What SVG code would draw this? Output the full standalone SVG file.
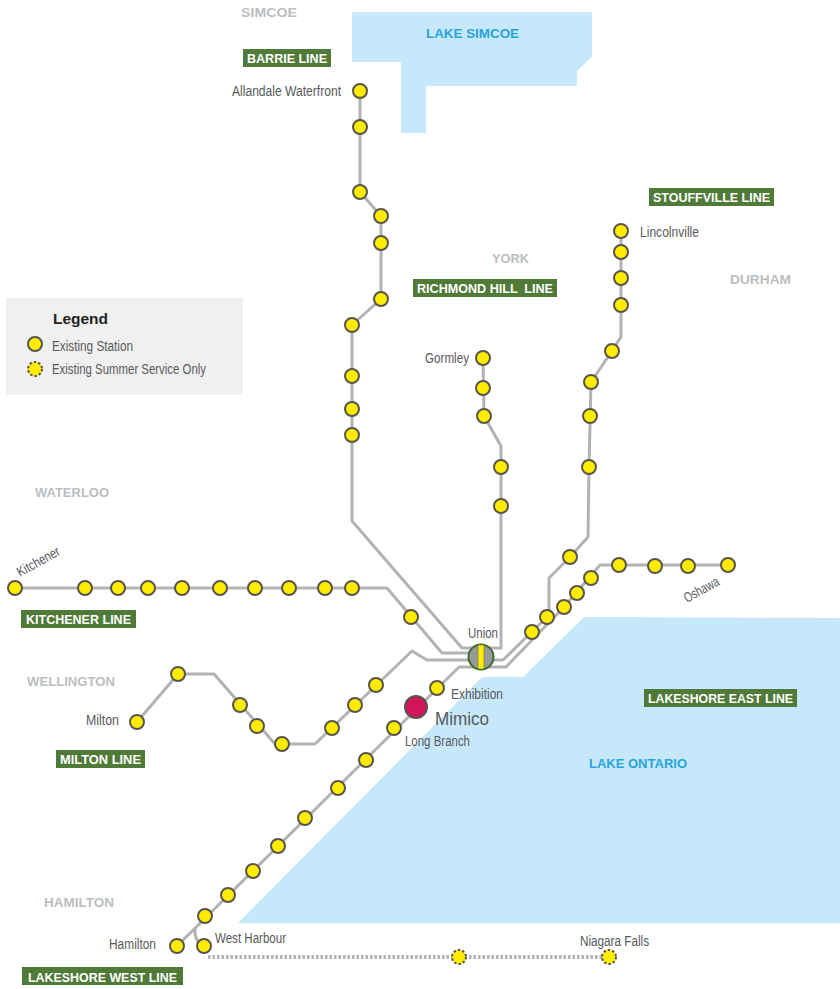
<svg xmlns="http://www.w3.org/2000/svg" width="840" height="989" viewBox="0 0 840 989">
<style>
.lake{fill:#c7e8fb}
.ln{fill:none;stroke:#b3b3b3;stroke-width:3;stroke-linejoin:round}
.dot{fill:none;stroke:#b3b3b3;stroke-width:4;stroke-dasharray:2.5 2}
.st{fill:#ffec00;stroke:#58554a;stroke-width:2}
.su{fill:#ffec00;stroke:#58554a;stroke-width:2;stroke-dasharray:2.5 2}
circle.st,circle.su{r:7px}
text{font-family:"Liberation Sans Narrow","Liberation Sans",Arial,sans-serif}
.name{font-size:14px;fill:#58595b}
.badge{fill:#4f7a37}
.bt{font-family:"Liberation Sans",Arial,sans-serif;font-size:13px;font-weight:bold;fill:#fff}
.reg{font-family:"Liberation Sans",Arial,sans-serif;font-size:13px;font-weight:bold;fill:#bcbec0}
.lk{font-family:"Liberation Sans",Arial,sans-serif;font-size:13px;font-weight:bold;fill:#27a4dd}
</style>
<polygon id="lake-simcoe" class="lake" points="352,12 592,12 592,57 577,71 577,86 426,86 426,133 401,133 401,62 352,62"/>
<polygon id="lake-ontario" class="lake" points="238,923 840,923 840,618 584,617 523,677 482,677"/>
<text class="lk" x="426" y="38" textLength="93" lengthAdjust="spacingAndGlyphs">LAKE SIMCOE</text>
<text class="lk" x="589" y="768" textLength="98" lengthAdjust="spacingAndGlyphs">LAKE ONTARIO</text>
<g id="regions">
<text class="reg" x="241" y="17" textLength="56" lengthAdjust="spacingAndGlyphs">SIMCOE</text>
<text class="reg" x="492" y="263" textLength="37" lengthAdjust="spacingAndGlyphs">YORK</text>
<text class="reg" x="730" y="284" textLength="61" lengthAdjust="spacingAndGlyphs">DURHAM</text>
<text class="reg" x="35" y="497" textLength="74" lengthAdjust="spacingAndGlyphs">WATERLOO</text>
<text class="reg" x="27" y="686" textLength="88" lengthAdjust="spacingAndGlyphs">WELLINGTON</text>
<text class="reg" x="44" y="907" textLength="70" lengthAdjust="spacingAndGlyphs">HAMILTON</text>
</g>
<g id="connectors">
<polyline class="ln" points="360,91 360,192 381,216 381,299 352,325 352,521 462,648 481,648"/>
<polyline class="ln" points="483,358 484,416 501,446 501,648 481,648"/>
<polyline class="ln" points="15,588 387,588 442,653 481,653"/>
<polyline class="ln" points="137,722 178,674 214,674 275,744 315,744 412,651 427,660 481,660"/>
<polyline class="ln" points="177,946 459,667 481,667"/>
<path class="ln" d="M195,929 Q194,941 204,946"/>
<polyline class="ln" points="481,667 506,667 564,607 600,565 728,565"/>
<polyline class="ln" points="481,660 503,660 547,617 549,612 549,578 570,557 588,537 589,467 591,382 612,351 621,337 621,231"/>
<polyline class="dot" points="208,957 609,957"/>
</g>
<g id="legend">
<rect x="6" y="298" width="237" height="97" fill="#f0f0f0"/>
<text x="53" y="324" font-size="15" font-weight="bold" fill="#222" style="font-family:'Liberation Sans',Arial,sans-serif" textLength="55" lengthAdjust="spacingAndGlyphs">Legend</text>
<circle class="st" cx="35" cy="344"/>
<text class="name" x="52" y="351" textLength="81" lengthAdjust="spacingAndGlyphs">Existing Station</text>
<circle class="su" cx="35" cy="369"/>
<text class="name" x="52" y="374" textLength="154" lengthAdjust="spacingAndGlyphs">Existing Summer Service Only</text>
</g>
<g id="badges">
<g id="badge-barrie"><rect class="badge" x="243" y="49" width="88" height="18"/><text class="bt" x="247" y="62.5" textLength="80" lengthAdjust="spacingAndGlyphs">BARRIE LINE</text></g>
<g id="badge-stouffville"><rect class="badge" x="649" y="188" width="125" height="18"/><text class="bt" x="653" y="201.500" textLength="117" lengthAdjust="spacingAndGlyphs">STOUFFVILLE LINE</text></g>
<g id="badge-richmond"><rect class="badge" x="413" y="279" width="144" height="18"/><text class="bt" x="417" y="292.500" textLength="136" lengthAdjust="spacingAndGlyphs" xml:space="preserve">RICHMOND HILL  LINE</text></g>
<g id="badge-kitchener"><rect class="badge" x="21" y="610" width="115" height="18"/><text class="bt" x="26" y="623.500" textLength="105" lengthAdjust="spacingAndGlyphs">KITCHENER LINE</text></g>
<g id="badge-lse"><rect class="badge" x="644" y="689" width="153" height="18"/><text class="bt" x="648" y="702.500" textLength="145" lengthAdjust="spacingAndGlyphs">LAKESHORE EAST LINE</text></g>
<g id="badge-milton"><rect class="badge" x="56" y="750" width="89" height="18"/><text class="bt" x="60" y="763.500" textLength="81" lengthAdjust="spacingAndGlyphs">MILTON LINE</text></g>
<g id="badge-lsw"><rect class="badge" x="22" y="967" width="161" height="18"/><text class="bt" x="28" y="982" textLength="149" lengthAdjust="spacingAndGlyphs">LAKESHORE WEST LINE</text></g>
</g>
<g id="barrie-stations">
<g id="st-allandale"><circle class="st" cx="360" cy="91"/><text class="name" x="232" y="96" textLength="109" lengthAdjust="spacingAndGlyphs">Allandale Waterfront</text></g>
<circle class="st" cx="360" cy="127"/>
<circle class="st" cx="360" cy="192"/>
<circle class="st" cx="381" cy="216"/>
<circle class="st" cx="381" cy="243"/>
<circle class="st" cx="381" cy="299"/>
<circle class="st" cx="352" cy="325"/>
<circle class="st" cx="352" cy="376"/>
<circle class="st" cx="352" cy="409"/>
<circle class="st" cx="352" cy="435"/>
</g>
<g id="richmond-stations">
<g id="st-gormley"><circle class="st" cx="483" cy="358"/><text class="name" x="425" y="363" textLength="44" lengthAdjust="spacingAndGlyphs">Gormley</text></g>
<circle class="st" cx="483" cy="388"/>
<circle class="st" cx="484" cy="416"/>
<circle class="st" cx="501" cy="467"/>
<circle class="st" cx="501" cy="506"/>
</g>
<g id="stouffville-stations">
<g id="st-lincolnville"><circle class="st" cx="621" cy="231"/><text class="name" x="640" y="237" textLength="59" lengthAdjust="spacingAndGlyphs">Lincolnville</text></g>
<circle class="st" cx="621" cy="252"/>
<circle class="st" cx="621" cy="278"/>
<circle class="st" cx="621" cy="305"/>
<circle class="st" cx="612" cy="351"/>
<circle class="st" cx="591" cy="382"/>
<circle class="st" cx="590" cy="416"/>
<circle class="st" cx="589" cy="467"/>
<circle class="st" cx="570" cy="557"/>
<circle class="st" cx="547" cy="617"/>
<circle class="st" cx="532" cy="632"/>
</g>
<g id="kitchener-stations">
<g id="st-kitchener"><circle class="st" cx="15" cy="588"/><text class="name" transform="translate(20,577) rotate(-29)" textLength="47" lengthAdjust="spacingAndGlyphs">Kitchener</text></g>
<circle class="st" cx="85" cy="588"/>
<circle class="st" cx="118" cy="588"/>
<circle class="st" cx="148" cy="588"/>
<circle class="st" cx="182" cy="588"/>
<circle class="st" cx="220" cy="588"/>
<circle class="st" cx="255" cy="588"/>
<circle class="st" cx="289" cy="588"/>
<circle class="st" cx="325" cy="588"/>
<circle class="st" cx="352" cy="588"/>
<circle class="st" cx="411" cy="617"/>
</g>
<g id="milton-stations">
<g id="st-milton"><circle class="st" cx="137" cy="722"/><text class="name" x="86" y="725" textLength="33" lengthAdjust="spacingAndGlyphs">Milton</text></g>
<circle class="st" cx="178" cy="674"/>
<circle class="st" cx="240" cy="705"/>
<circle class="st" cx="257" cy="726"/>
<circle class="st" cx="282" cy="744"/>
<circle class="st" cx="332" cy="728"/>
<circle class="st" cx="355" cy="705"/>
<circle class="st" cx="376" cy="685"/>
</g>
<g id="lsw-stations">
<g id="st-hamilton"><circle class="st" cx="177" cy="946"/><text class="name" x="109" y="949" textLength="47" lengthAdjust="spacingAndGlyphs">Hamilton</text></g>
<g id="st-west-harbour"><circle class="st" cx="204" cy="946"/><text class="name" x="215" y="943" textLength="71" lengthAdjust="spacingAndGlyphs">West Harbour</text></g>
<circle class="st" cx="205" cy="916"/>
<circle class="st" cx="228" cy="895"/>
<circle class="st" cx="253" cy="871"/>
<circle class="st" cx="278" cy="846"/>
<circle class="st" cx="305" cy="818"/>
<circle class="st" cx="338" cy="788"/>
<circle class="st" cx="366" cy="760"/>
<g id="st-long-branch"><circle class="st" cx="394" cy="728"/><text class="name" x="405" y="746" textLength="65" lengthAdjust="spacingAndGlyphs">Long Branch</text></g>
<g id="st-mimico"><circle cx="416" cy="707" r="11" fill="#d4145a" stroke="#58554a" stroke-width="2"/><text x="435" y="725" font-size="19" fill="#58595b" textLength="54" lengthAdjust="spacingAndGlyphs">Mimico</text></g>
<g id="st-exhibition"><circle class="st" cx="437" cy="688"/><text class="name" x="451" y="699" textLength="52" lengthAdjust="spacingAndGlyphs">Exhibition</text></g>
</g>
<g id="lse-stations">
<circle class="st" cx="564" cy="607"/>
<circle class="st" cx="577" cy="593"/>
<circle class="st" cx="591" cy="578"/>
<circle class="st" cx="619" cy="565"/>
<circle class="st" cx="655" cy="566"/>
<circle class="st" cx="688" cy="566"/>
<g id="st-oshawa"><circle class="st" cx="728" cy="565"/><text class="name" transform="translate(687,603) rotate(-29)" textLength="38" lengthAdjust="spacingAndGlyphs">Oshawa</text></g>
</g>
<g id="niagara-stations">
<circle class="su" cx="459" cy="957"/>
<g id="st-niagara"><circle class="su" cx="609" cy="957"/><text class="name" x="580" y="946" textLength="69" lengthAdjust="spacingAndGlyphs">Niagara Falls</text></g>
</g>
<g id="st-union">
<circle cx="481" cy="657" r="12.500" fill="#999" stroke="#3f6b2f" stroke-width="2"/>
<rect x="478" y="645" width="6" height="24" fill="#ffec00" stroke="#3f6b2f" stroke-width="0.500"/>
<text class="name" x="468" y="638" textLength="30" lengthAdjust="spacingAndGlyphs">Union</text>
</g>
</svg>
